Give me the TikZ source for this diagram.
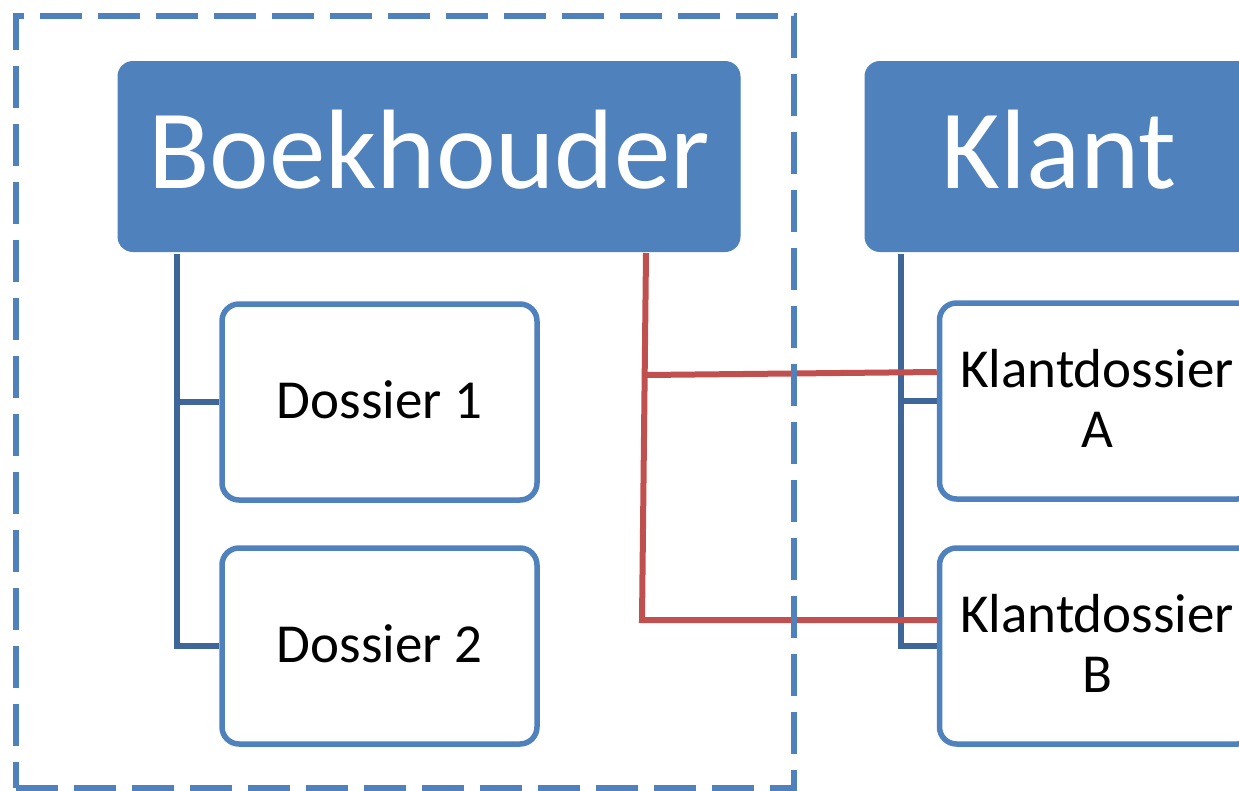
\documentclass[tikz,border=0pt]{standalone}
\usepackage{fontspec}
\setmainfont{Carlito}
\usetikzlibrary{backgrounds}
\definecolor{accblue}{HTML}{4F81BD}
\definecolor{treeblue}{HTML}{3E6699}
\definecolor{accred}{HTML}{C0504D}
\tikzset{
  hdr/.style={fill=accblue, draw=accblue, line width=1pt, rounded corners=15pt,
    minimum width=622pt, minimum height=190pt, inner sep=0pt, text=white,
    font=\fontsize{113}{120}\selectfont, text height=63pt, text depth=0pt},
  sub/.style={fill=white, draw=accblue, line width=5.5pt, rounded corners=17pt,
    minimum width=315pt, minimum height=196pt, inner sep=0pt, text=black,
    font=\fontsize{55}{60}\selectfont, text height=32pt, text depth=0pt},
  subtwo/.style={sub, align=center, text height=92pt, text depth=0pt},
  tree/.style={draw=treeblue, line width=5.5pt},
  redl/.style={draw=accred, line width=6pt},
  frame/.style={draw=accblue, line width=5.5pt, dash pattern=on 42pt off 16pt,
    minimum width=778pt, minimum height=772pt, inner sep=0pt}
}
\begin{document}
\begin{tikzpicture}[x=1pt,y=-1pt]
\useasboundingbox (0,0) rectangle (1239,790);
\clip (0,0) rectangle (1239,790);
% header boxes
\node[hdr] (bk) at (429,156.5) {Boekhouder};
\node[hdr, minimum width=388pt] (kl) at (1059,156.5) {Klant};
% sub boxes
\node[sub] (d1) at (379.5,402) {Dossier 1};
\node[sub] (d2) at (379.5,646) {Dossier 2};
\node[subtwo] (kA) at (1097,401) {Klantdossier\\A};
\node[subtwo] (kB) at (1097,646) {Klantdossier\\B};
% blue tree connectors
\coordinate (tb) at (177,254);
\coordinate (tk) at (901,254);
\begin{scope}[on background layer]
\draw[tree] (tb) |- (d2.west);
\draw[tree] (tb |- d1.west) -- (d1.west);
\draw[tree] (tk) |- (kB.west);
\draw[tree] (tk |- kA.west) -- (kA.west);
\end{scope}
% red connectors
\coordinate (rTop) at (646,253);
\coordinate (rA) at (646,375);
\coordinate (rB) at (642,620);
\draw[redl] (rTop) -- (rB) -- ([yshift=26pt]kB.west);
\draw[redl] (rA) -- ([yshift=29pt]kA.west);
% dashed frame
\node[frame] (fr) at (405,402) {};
\end{tikzpicture}
\end{document}
